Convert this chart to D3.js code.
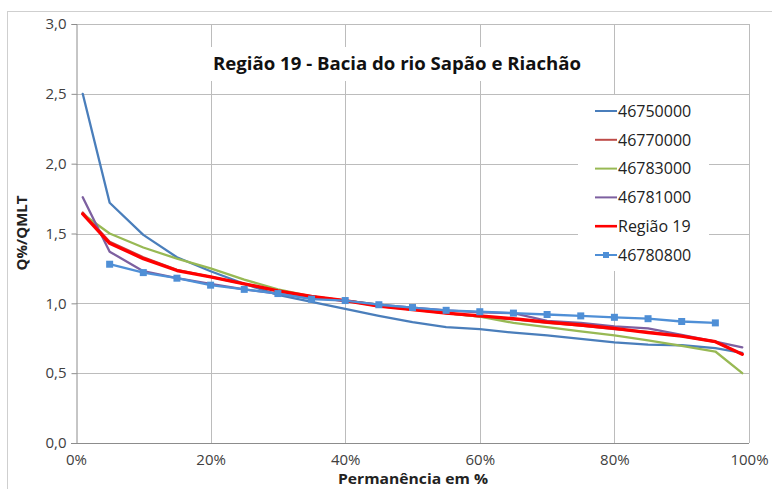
<!DOCTYPE html>
<html>
<head>
<meta charset="utf-8">
<script src="https://cdn.jsdelivr.net/npm/d3@7"></script>
<style>
  html, body { margin: 0; padding: 0; background: #fff; }
  svg { display: block; font-family: "Open Sans", "Noto Sans", sans-serif; }
</style>
</head>
<body>
<svg id="chart" width="772" height="489"></svg>
<script>
// ---- data ----
const titleText = "Região 19 - Bacia do rio Sapão e Riachão";
const xTitle = "Permanência em %";
const yTitle = "Q%/QMLT";
const yTicks = [0, 0.5, 1.0, 1.5, 2.0, 2.5, 3.0];
const xTicks = [0, 20, 40, 60, 80, 100];

const permanencia = [1, 5, 10, 15, 20, 25, 30, 35, 40, 45, 50, 55, 60, 65, 70, 75, 80, 85, 90, 95, 99];
const s46750000 = [2.50, 1.72, 1.49, 1.33, 1.23, 1.14, 1.06, 1.01, 0.96, 0.91, 0.865, 0.83, 0.815, 0.79, 0.77, 0.745, 0.72, 0.705, 0.70, 0.68, 0.645];
const s46770000 = [1.65, 1.44, 1.33, 1.24, 1.19, 1.14, 1.09, 1.05, 1.02, 0.98, 0.955, 0.93, 0.905, 0.885, 0.86, 0.84, 0.815, 0.795, 0.765, 0.725, 0.635];
const s46783000 = [1.64, 1.50, 1.40, 1.32, 1.25, 1.17, 1.10, 1.05, 1.02, 0.99, 0.96, 0.93, 0.905, 0.86, 0.83, 0.80, 0.77, 0.735, 0.695, 0.655, 0.50];
const s46781000 = [1.76, 1.37, 1.23, 1.18, 1.14, 1.10, 1.07, 1.04, 1.02, 0.99, 0.97, 0.95, 0.935, 0.93, 0.875, 0.86, 0.835, 0.82, 0.775, 0.725, 0.685];
const regiao19  = [1.64, 1.43, 1.32, 1.235, 1.19, 1.14, 1.09, 1.05, 1.02, 0.98, 0.955, 0.93, 0.91, 0.89, 0.865, 0.845, 0.82, 0.79, 0.765, 0.725, 0.635];
const permanencia80800 = [5, 10, 15, 20, 25, 30, 35, 40, 45, 50, 55, 60, 65, 70, 75, 80, 85, 90, 95];
const s46780800 = [1.28, 1.22, 1.18, 1.13, 1.10, 1.07, 1.03, 1.02, 0.99, 0.97, 0.95, 0.94, 0.93, 0.92, 0.91, 0.90, 0.89, 0.87, 0.86];

const seriesNames = ["46750000", "46770000", "46783000", "46781000", "Região 19", "46780800"];

// ---- build series table ----
const series = [
  { name: seriesNames[0], xs: permanencia, ys: s46750000, color: "#4a7ebb", width: 2.3, marker: false },
  { name: seriesNames[1], xs: permanencia, ys: s46770000, color: "#be4b48", width: 2.3, marker: false },
  { name: seriesNames[2], xs: permanencia, ys: s46783000, color: "#98b954", width: 2.3, marker: false },
  { name: seriesNames[3], xs: permanencia, ys: s46781000, color: "#7d60a0", width: 2.3, marker: false },
  { name: seriesNames[4], xs: permanencia, ys: regiao19, color: "#ff0000", width: 3.3, marker: false },
  { name: seriesNames[5], xs: permanencia80800, ys: s46780800, color: "#4f8fd6", width: 2.3, marker: true }
];

const svg = d3.select("#chart");

// outer chart border
svg.append("rect").attr("x", 7.5).attr("y", 11.5).attr("width", 800).attr("height", 500)
  .attr("fill", "#fff").attr("stroke", "#cfcfcf").attr("stroke-width", 1);

const plot = { left: 76, right: 749, top: 24, bottom: 443 };
const x = d3.scaleLinear().domain([0, 100]).range([plot.left, plot.right]);
const y = d3.scaleLinear().domain([0, 3]).range([plot.bottom, plot.top]);

const gridColor = "#bcbcbc";
const g = svg.append("g");

// gridlines
g.selectAll(".hgrid").data(yTicks.filter(d => d > 0)).enter().append("line")
  .attr("x1", plot.left).attr("x2", plot.right)
  .attr("y1", d => Math.round(y(d)) + 0.5).attr("y2", d => Math.round(y(d)) + 0.5)
  .attr("stroke", gridColor).attr("stroke-width", 1);
g.selectAll(".vgrid").data(xTicks.filter(d => d > 0)).enter().append("line")
  .attr("x1", d => Math.round(x(d)) + 0.5).attr("x2", d => Math.round(x(d)) + 0.5)
  .attr("y1", plot.top).attr("y2", plot.bottom)
  .attr("stroke", gridColor).attr("stroke-width", 1);

// axes
const yAxis = d3.axisLeft(y).tickValues(yTicks).tickSize(5).tickPadding(5)
  .tickFormat(d => d3.format(".1f")(d).replace(".", ","));
const xAxis = d3.axisBottom(x).tickValues(xTicks).tickSize(0).tickPadding(11)
  .tickFormat(d => d + "%");

const gy = svg.append("g").attr("transform", `translate(${plot.left + 0.5},0)`).call(yAxis);
const gx = svg.append("g").attr("transform", `translate(0,${plot.bottom + 0.5})`).call(xAxis);
[gy, gx].forEach(a => {
  a.select(".domain").attr("stroke", "#8c8c8c");
  a.selectAll(".tick line").attr("stroke", "#8c8c8c");
  a.selectAll(".tick text").attr("fill", "#404040").style("font-size", "15px")
    .style("font-family", "'Open Sans', sans-serif");
});
gx.select(".domain").attr("d", `M${plot.left - 5},0H${plot.right}`);

// title box + title
svg.append("rect").attr("x", 204).attr("y", 47).attr("width", 388).attr("height", 34).attr("fill", "#fff");
svg.append("text").attr("x", 397).attr("y", 70).attr("text-anchor", "middle")
  .attr("textLength", 368).attr("lengthAdjust", "spacingAndGlyphs")
  .style("font-size", "18px").style("font-weight", "bold").attr("fill", "#111")
  .text(titleText);

// axis titles
svg.append("text").attr("x", 413).attr("y", 484).attr("text-anchor", "middle")
  .attr("textLength", 150).attr("lengthAdjust", "spacingAndGlyphs")
  .style("font-size", "14px").style("font-weight", "bold").attr("fill", "#222").text(xTitle);
svg.append("text").attr("transform", "translate(27,233) rotate(-90)").attr("text-anchor", "middle")
  .style("font-size", "15px").style("font-weight", "bold").attr("fill", "#222").text(yTitle);

// lines
const line = d3.line().x(d => x(d[0])).y(d => y(d[1]));
const lines = svg.append("g");
series.forEach(s => {
  const pts = s.xs.map((v, i) => [v, s.ys[i]]);
  lines.append("path").datum(pts).attr("d", line).attr("fill", "none")
    .attr("stroke", s.color).attr("stroke-width", s.width)
    .attr("stroke-linejoin", "round").attr("stroke-linecap", "round");
  if (s.marker) {
    lines.selectAll(null).data(pts).enter().append("rect")
      .attr("x", d => x(d[0]) - 3.5).attr("y", d => y(d[1]) - 3.5)
      .attr("width", 7).attr("height", 7).attr("fill", s.color);
  }
});

// legend
const leg = svg.append("g");
leg.append("rect").attr("x", 578).attr("y", 95).attr("width", 131).attr("height", 176).attr("fill", "#fff");
series.forEach((s, i) => {
  const cy = 111 + i * 28.8;
  leg.append("line").attr("x1", 595).attr("x2", 617).attr("y1", cy).attr("y2", cy)
    .attr("stroke", s.color).attr("stroke-width", s.width > 3 ? 2.6 : 2);
  if (s.marker) {
    leg.append("rect").attr("x", 603).attr("y", cy - 3).attr("width", 6).attr("height", 6).attr("fill", s.color);
  }
  leg.append("text").attr("x", 618).attr("y", cy).attr("dy", "0.36em")
    .style("font-size", "16px").attr("fill", "#222").text(s.name);
});
</script>
</body>
</html>
